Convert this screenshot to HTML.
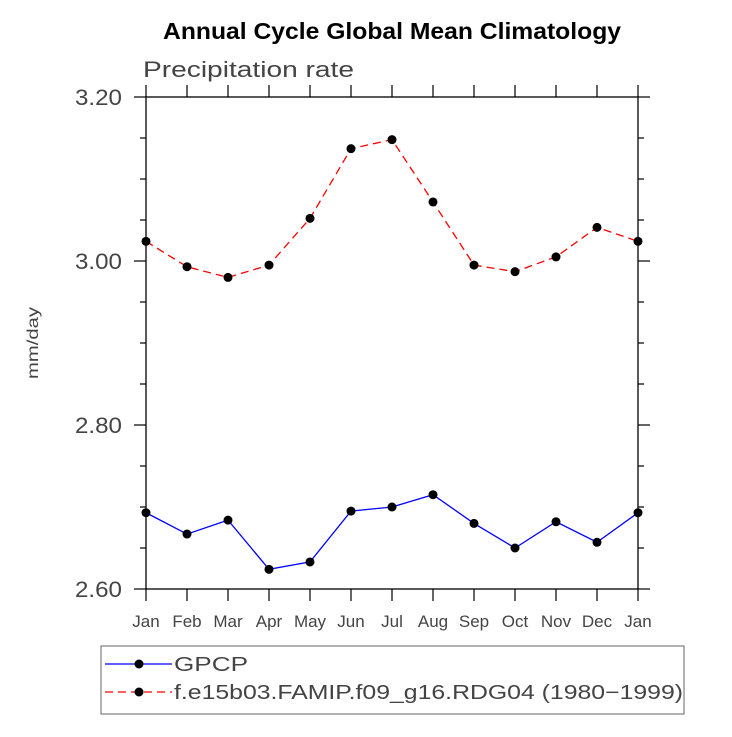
<!DOCTYPE html>
<html><head><meta charset="utf-8"><style>
body{margin:0;background:#fff;}
svg text{font-family:"Liberation Sans",sans-serif;}
</style></head><body>
<svg width="732" height="732" xmlns="http://www.w3.org/2000/svg">
<rect width="732" height="732" fill="#fff"/>
<text x="163" y="39" textLength="458" lengthAdjust="spacingAndGlyphs" font-size="23" font-weight="bold">Annual Cycle Global Mean Climatology</text>
<text x="143" y="77" textLength="211" lengthAdjust="spacingAndGlyphs" font-size="22" fill="#444">Precipitation rate</text>
<text transform="translate(38,343) rotate(-90)" text-anchor="middle" font-size="16" fill="#444" textLength="72" lengthAdjust="spacingAndGlyphs">mm/day</text>
<g id="axes"></g>
<g id="series"></g>
<rect x="101" y="646" width="583" height="68" fill="none" stroke="#666" stroke-width="1"/>
<g>
<line x1="105" y1="664" x2="172" y2="664" stroke="#0000ff" stroke-width="1.2"/>
<circle cx="139" cy="664" r="4.5" fill="#000"/>
<text x="174" y="671" font-size="20" fill="#444" textLength="74" lengthAdjust="spacingAndGlyphs">GPCP</text>
</g>
<g>
<line x1="105" y1="692" x2="172" y2="692" stroke="#ff0000" stroke-width="1.2" stroke-dasharray="8,5"/>
<circle cx="139" cy="692" r="4.5" fill="#000"/>
<text x="174" y="699" font-size="20" fill="#444" textLength="509" lengthAdjust="spacingAndGlyphs">f.e15b03.FAMIP.f09_g16.RDG04 (1980−1999)</text>
</g>
</svg>
<script>
const months=["Jan","Feb","Mar","Apr","May","Jun","Jul","Aug","Sep","Oct","Nov","Dec","Jan"];
const gpcp=[2.693,2.667,2.684,2.624,2.633,2.695,2.700,2.715,2.680,2.650,2.682,2.657,2.693];
const model=[3.024,2.993,2.980,2.995,3.052,3.137,3.148,3.072,2.995,2.987,3.005,3.041,3.024];
const yTicks=[2.60,2.80,3.00,3.20];
const yTickLabels=["2.60","2.80","3.00","3.20"];
const NS="http://www.w3.org/2000/svg";
const L=146,R=638,T=97,B=589,ymin=2.6,ymax=3.2;
const xs=i=>L+i*(R-L)/(months.length-1);
const ys=v=>B-(v-ymin)/(ymax-ymin)*(B-T);
function mk(tag,attrs,parent){const e=document.createElementNS(NS,tag);for(const k in attrs)e.setAttribute(k,attrs[k]);parent.appendChild(e);return e;}
const ax=document.getElementById('axes');
const frame=mk('rect',{x:L,y:T,width:R-L,height:B-T,fill:'none',stroke:'#000','stroke-width':1.3},ax);


months.forEach((m,i)=>{
  const x=xs(i);
  mk('line',{x1:x,y1:B,x2:x,y2:B+12,stroke:'#000','stroke-width':1.2},ax);
  mk('line',{x1:x,y1:T,x2:x,y2:T-12,stroke:'#000','stroke-width':1.2},ax);
  const t=mk('text',{x:x,y:B+38,'text-anchor':'middle','font-size':17,fill:'#444'},ax);
  t.textContent=m;
  
  
});
for(let v=ymin;v<=ymax+1e-9;v+=0.05){
  const y=ys(v);const major=Math.abs((v*100)%20)<0.5||Math.abs((v*100)%20-20)<0.5;
  const len=major?12:6;
  mk('line',{x1:L,y1:y,x2:L-len,y2:y,stroke:'#000','stroke-width':1.2},ax);
  mk('line',{x1:R,y1:y,x2:R+len,y2:y,stroke:'#000','stroke-width':1.2},ax);
}
yTicks.forEach((v,i)=>{
  const t=mk('text',{x:122,y:ys(v)+8,'text-anchor':'end','font-size':22,fill:'#444',textLength:47,lengthAdjust:'spacingAndGlyphs'},ax);
  t.textContent=yTickLabels[i];
  
  
});
const sg=document.getElementById('series');
function drawSeries(vals,color,dash,name){
  const g=mk('g',{},sg);
  
  
  const p=mk('polyline',{points:vals.map((v,i)=>xs(i)+','+ys(v)).join(' '),fill:'none',stroke:color,'stroke-width':1.3},g);
  if(dash)p.setAttribute('stroke-dasharray',dash);
  vals.forEach((v,i)=>{
    const c=mk('circle',{cx:xs(i),cy:ys(v),r:4.5,fill:'#000'},g);
    
    
  });
}
drawSeries(gpcp,'#0000ff',null,'gpcp-series');
drawSeries(model,'#ff0000','8,5','model-series');
</script>
</body></html>
